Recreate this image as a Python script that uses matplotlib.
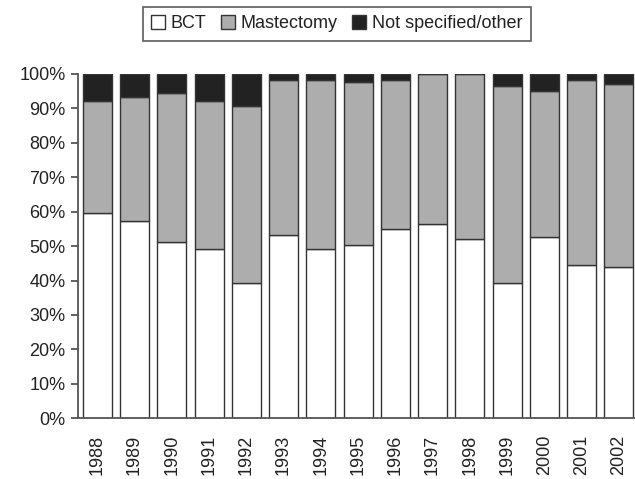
import matplotlib
matplotlib.use('Agg')
import matplotlib.pyplot as plt
import numpy as np

matplotlib.rcParams['font.family'] = ['Liberation Sans', 'DejaVu Sans']
matplotlib.rcParams['font.size'] = 13

years = ['1988', '1989', '1990', '1991', '1992', '1993', '1994', '1995',
         '1996', '1997', '1998', '1999', '2000', '2001', '2002']
bct = [59.7, 57.3, 51.3, 49.3, 39.2, 53.2, 49.3, 50.4, 54.9, 56.3, 52.2, 39.2, 52.7, 44.5, 43.9]
mastectomy = [32.5, 36.0, 43.2, 42.9, 51.6, 44.9, 48.8, 47.3, 43.2, 43.7, 47.8, 57.4, 42.4, 53.6, 53.2]
other = [7.8, 6.7, 5.5, 7.8, 9.2, 1.9, 1.9, 2.3, 1.9, 0.0, 0.0, 3.4, 4.9, 1.9, 2.9]

x = np.arange(len(years))
w = 0.78
edge = '#333333'

fig = plt.figure(figsize=(6.35, 4.79), dpi=100)
ax = fig.add_axes([0.1228, 0.1267, 0.877, 0.719])

b1 = ax.bar(x, bct, w, color='white', edgecolor=edge, linewidth=1, label='BCT')
bottom2 = np.array(bct)
b2 = ax.bar(x, mastectomy, w, bottom=bottom2, color='#adadad', edgecolor=edge,
            linewidth=1, label='Mastectomy')
bottom3 = bottom2 + np.array(mastectomy)
b3 = ax.bar(x, other, w, bottom=bottom3, color='#222222', edgecolor=edge,
            linewidth=1, label='Not specified/other')

ax.set_ylim(0, 100)
ax.set_xlim(-0.52, 14.43)
ax.set_yticks(np.arange(0, 101, 10))
ax.set_yticklabels([f'{v}%' for v in range(0, 101, 10)])
ax.set_xticks(x)
ax.set_xticklabels(years, rotation=90)

for s in ['top', 'right']:
    ax.spines[s].set_visible(False)
for s in ['left', 'bottom']:
    ax.spines[s].set_color('#555555')
    ax.spines[s].set_linewidth(1.3)

ax.tick_params(axis='y', length=5, width=1.3, color='#555555', pad=4, labelcolor='#222222')
ax.tick_params(axis='x', length=0, pad=12, labelcolor='#222222')

leg = fig.legend(handles=[b1, b2, b3], loc='upper center', bbox_to_anchor=(0.530, 0.985),
                 ncol=3, frameon=True, fancybox=False, fontsize=13,
                 handlelength=0.8, handleheight=0.8, handletextpad=0.3,
                 columnspacing=0.8, borderpad=0.45, borderaxespad=0)
leg.get_frame().set_edgecolor('#333333')
leg.get_frame().set_linewidth(1.2)
for t in leg.get_texts():
    t.set_color('#222222')

fig.savefig('out.png', dpi=100)
